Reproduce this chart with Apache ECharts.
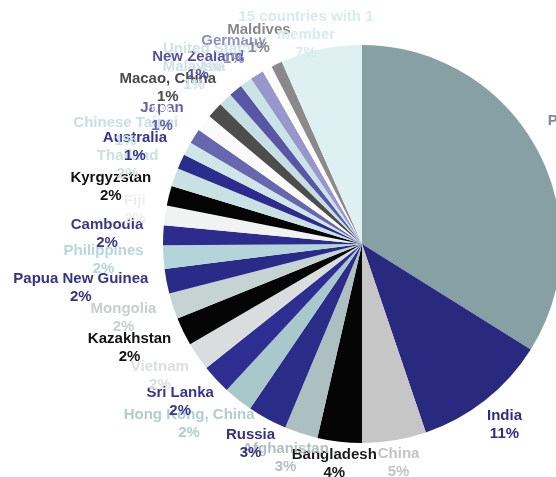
<!DOCTYPE html>
<html><head><meta charset="utf-8">
<script src="https://cdn.jsdelivr.net/npm/echarts@6/dist/echarts.min.js"></script>
<style>html,body{margin:0;padding:0;background:#fff}#c{width:556px;height:477px}</style>
</head><body><div id="c"></div>
<script>
const countries = ["Pakistan","India","China","Bangladesh","Afghanistan","Russia","Hong Kong, China","Sri Lanka","Vietnam","Kazakhstan","Mongolia","Papua New Guinea","Philippines","Cambodia","Fiji","Kyrgyzstan","Thailand","Australia","Chinese Taipei","Japan","Singapore","Macao, China","Malaysia","New Zealand","United States","Germany","Nepal","Maldives","15 countries with 1\nmember"];
const shares = [33.9,10.9,5.2,3.6,2.7,3.2,2.4,2.4,2.3,2.3,2.1,2.0,1.9,1.6,1.6,1.6,1.5,1.2,1.1,1.2,1.4,1.3,1.1,1.1,1.0,1.1,0.8,0.9,6.6];
const sliceColors = ["#87a0a3","#292980","#c6c6c6","#050505","#aebfc1","#2b2b88","#a9c8cc","#2e2e92","#d9dddd","#050505","#c5d3d3","#2a2a88","#b3d5d9","#2c2c8e","#f1f3f3","#050505","#c9e1e2","#2c2c8e","#cfe5e7","#6767b0","#fafafa","#4d4d4d","#c7dfe3","#5757a6","#c9e3e6","#9797cb","#fbfbfb","#8a8a8a","#dff0f3"];
const labelColors = ["#7f8b8e","#2e2e82","#c4c4c4","#1a1a1a","#b3bfc2","#333385","#b0cdd2","#363690","#dcdfdf","#111111","#c6d0d0","#333388","#b6d7db","#38388e","#eeeeee","#111111","#cddfdf","#333390","#c8e0e5","#6262b0","#ffffff","#4a4a4a","#cfe3e7","#5252a2","#cfe3e9","#8f8fc8","#ffffff","#888888","#d6ecf0"];

const CX = 362, CY = 244, R = 199;
const total = shares.reduce((a, b) => a + b, 0);
const mids = [];
let acc = 0;
shares.forEach(v => { mids.push((acc + v / 2) / total * 2 * Math.PI); acc += v; });

const chart = echarts.init(document.getElementById('c'), null, {renderer: 'canvas'});
chart.setOption({
  animation: false,
  backgroundColor: '#ffffff',
  series: [{
    type: 'pie',
    center: [CX, CY],
    radius: R,
    startAngle: 90,
    clockwise: true,
    percentPrecision: 0,
    avoidLabelOverlap: false,
    data: countries.map((n, i) => ({
      name: n,
      value: shares[i],
      itemStyle: {color: sliceColors[i]},
      label: {color: labelColors[i]}
    })),
    itemStyle: {borderWidth: 0},
    emphasis: {disabled: true},
    label: {
      show: true,
      position: 'outside',
      formatter: p => p.name + '\n' + p.percent + '%',
      fontFamily: 'Liberation Sans, Arial, sans-serif',
      fontWeight: 'bold',
      fontSize: 15,
      lineHeight: 18,
      align: 'center'
    },
    labelLine: {show: false},
    labelLayout: function (p) {
      const a = mids[p.dataIndex];
      const dx = Math.sin(a), dy = -Math.cos(a);
      const r = R + 2 + 18 * Math.abs(dx);
      const w = p.labelRect.width, h = p.labelRect.height;
      const x = CX + r * dx + dx * w / 2;
      let y = CY + r * dy + dy * h / 2;
      if (y - h / 2 < 8) y = 8 + h / 2;
      return {x: x, y: y, align: 'center', verticalAlign: 'middle', hideOverlap: false, moveOverlap: null};
    }
  }]
});
</script>
</body></html>
